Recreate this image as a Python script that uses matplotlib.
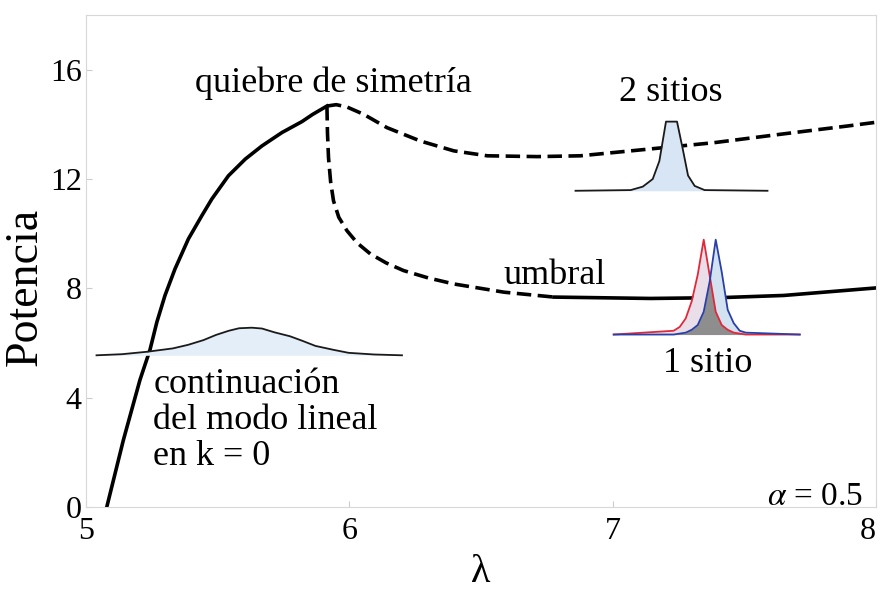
import matplotlib.pyplot as plt
import numpy as np

plt.rcParams['font.family'] = ['Liberation Serif', 'DejaVu Serif']
plt.rcParams['mathtext.fontset'] = 'stix'

# Rama simétrica (modo lineal continuado), sólida
lam_sim = [5.079, 5.142, 5.205, 5.243, 5.269, 5.300, 5.338, 5.389, 5.440, 5.478, 5.541,
           5.605, 5.668, 5.744, 5.820, 5.860, 5.906, 5.915]
P_sim = [0.0, 2.45, 4.65, 5.75, 6.76, 7.74, 8.71, 9.81, 10.66, 11.27, 12.12,
         12.73, 13.21, 13.70, 14.10, 14.36, 14.62, 14.67]

# Rama de 2 sitios (inestable), a trazos
lam_2s = [5.915, 5.950, 5.990, 6.054, 6.143, 6.270, 6.397, 6.524, 6.714, 6.878, 7.132,
          7.385, 7.639, 7.892, 8.019]
P_2s = [14.67, 14.72, 14.64, 14.37, 13.88, 13.39, 13.03, 12.85, 12.82, 12.85, 13.09,
        13.33, 13.64, 13.94, 14.10]

# Rama de 1 sitio: parte inestable (a trazos) y estable (sólida)
lam_1s_inest = [5.915, 5.917, 5.921, 5.929, 5.940, 5.960, 5.991, 6.030, 6.080, 6.140,
                6.206, 6.300, 6.397, 6.587, 6.777]
P_1s_inest = [14.67, 13.70, 12.78, 11.90, 11.20, 10.60, 10.11, 9.66, 9.26, 8.93,
              8.65, 8.38, 8.16, 7.86, 7.68]
lam_1s_est = [6.777, 7.144, 7.411, 7.650, 8.019]
P_1s_est = [7.68, 7.63, 7.66, 7.74, 8.03]

# Perfiles de los modos (amplitud normalizada vs sitio)
n_lineal = [-6, -5, -4, -3, -2.4, -1.8, -1.3, -0.8, -0.4, 0.1, 0.5, 1.0, 1.6, 2.1, 2.6, 3.3, 3.9, 4.9, 6.0]
u_lineal = [0, .04, .13, .25, .38, .55, .74, .89, .98, 1.0, .97, .83, .69, .52, .34, .20, .09, .03, 0]

n_2sitios = [-8.7, -3.7, -2.6, -1.7, -1.1, -0.5, 0.5, 1.0, 1.5, 2.1, 3.0, 8.7]
u_2sitios = [0, .01, .06, .17, .43, 1.0, 1.0, .62, .22, .07, .01, 0]

n_1sitio = [-16, -6, -5, -4, -3, -2, -1, 0, 1, 2, 3, 4, 5, 6, 15]
u_1sitio_rojo = [0, .04, .08, .17, .35, .63, 1.0, .62, .24, .10, .05, .02, .01, 0, 0]
u_1sitio_azul = [0, 0, .01, .02, .05, .10, .24, .56, 1.0, .66, .26, .12, .04, .02, 0]

fig = plt.figure(figsize=(8.81, 5.92), dpi=100)
ax = fig.add_axes([0.0976, 0.1436, 0.8967, 0.831])

estilo_trazos = dict(color='black', lw=2.6, dashes=(4, 1.8), solid_capstyle='butt')
ax.plot(lam_sim, P_sim, color='black', lw=2.6, solid_joinstyle='round')
ax.plot(lam_2s, P_2s, **estilo_trazos)
ax.plot(lam_1s_inest, P_1s_inest, **estilo_trazos)
ax.plot(lam_1s_est, P_1s_est, color='black', lw=2.6)

ax.set_xlim(5, 8)
ax.set_ylim(0, 18)
ax.set_xticks([5, 6, 7, 8])
ax.set_yticks([0, 4, 8, 12, 16])
ax.tick_params(direction='in', length=4, width=0.8, color='#cccccc',
               labelsize=23, pad=3)
ax.tick_params(axis='x', pad=7)
ax.get_xticklabels()[-1].set_horizontalalignment('right')
for s in ax.spines.values():
    s.set_color('#d8d8d8')
    s.set_linewidth(0.8)

ax.set_xlabel('λ', fontsize=29, labelpad=6)
ax.set_ylabel('Potencia', fontsize=33)
ax.yaxis.set_label_coords(-0.05, 0.447)


def perfil(bounds, n, curvas, n_rango):
    ins = ax.inset_axes(bounds, transform=ax.transData, zorder=5)
    ins.set_xlim(*n_rango)
    ins.set_ylim(0, 1)
    ins.axis('off')
    for u, lc, fc in curvas:
        ins.fill_between(n, u, color=fc, lw=0)
    for u, lc, fc in curvas:
        ins.plot(n, u, color=lc, lw=1.3, clip_on=False)
    return ins


# modo lineal en k = 0
perfil([5.04, 5.55, 1.16, 1.01], n_lineal,
       [(u_lineal, '#1a1a1a', '#e4eef8')], (-6, 6))

# modo de 2 sitios
perfil([6.859, 11.57, 0.729, 2.53], n_2sitios,
       [(u_2sitios, '#1a1a1a', '#d8e5f4')], (-8.7, 8.7))

# modo de 1 sitio (dos posiciones equivalentes)
ins3 = perfil([7.004, 6.31, 0.711, 3.47], n_1sitio,
              [(u_1sitio_rojo, '#e0283a', '#eadfe8'),
               (u_1sitio_azul, '#2a3fa8', '#d3e2f1')], (-16, 15.2))
ins3.fill_between(n_1sitio, np.minimum(u_1sitio_rojo, u_1sitio_azul),
                  color='#8e8e8e', lw=0, zorder=1.5)

fs = 26
ax.text(5.94, 15.5, 'quiebre de simetría', fontsize=fs, ha='center', va='center')
ax.text(7.22, 15.15, '2 sitios', fontsize=fs, ha='center', va='center')
ax.text(6.78, 8.47, 'umbral', fontsize=fs, ha='center', va='center', zorder=6)
ax.text(7.36, 5.26, '1 sitio', fontsize=fs, ha='center', va='center')
ax.text(5.255, 5.1, 'continuación\ndel modo lineal\nen k = 0', fontsize=fs,
        ha='left', va='top', linespacing=1.12)
ax.text(7.95, 0.36, r'$\alpha$ = 0.5', fontsize=24, ha='right', va='center')

fig.savefig('out.png', dpi=100)
